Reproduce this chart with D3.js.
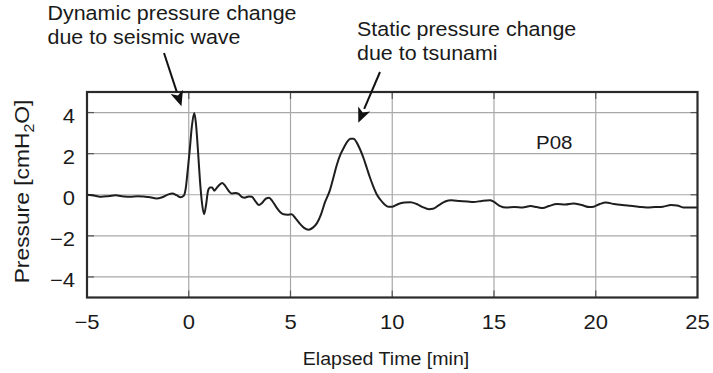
<!DOCTYPE html>
<html>
<head>
<meta charset="utf-8">
<script src="https://cdn.jsdelivr.net/npm/d3@7"></script>
<style>
  html, body { margin: 0; padding: 0; background: #fff; }
  svg { display: block; }
  text { font-family: "Liberation Sans", Arial, Helvetica, sans-serif; fill: #1a1a1a; }
</style>
</head>
<body>
<svg id="chart" width="713" height="373"></svg>
<script>
// Elapsed time after the event [min]
const timeMin = [
  -5.0, -4.6, -4.3, -3.9, -3.6, -3.2, -2.9, -2.5, -2.2, -1.9, -1.6, -1.3, -1.0, -0.8, -0.6, -0.4,
  -0.25, -0.15, -0.05, 0.05, 0.15, 0.27, 0.35, 0.45, 0.55, 0.65, 0.75, 0.85, 0.95, 1.05, 1.15, 1.25,
  1.35, 1.5, 1.65, 1.8, 1.95, 2.1, 2.3, 2.45, 2.6, 2.75, 2.95, 3.1, 3.3, 3.45, 3.6, 3.8, 3.95, 4.1,
  4.3, 4.5, 4.65, 4.85, 5.05, 5.25, 5.45, 5.65, 5.9, 6.1, 6.3, 6.5, 6.7, 6.93, 7.1, 7.26, 7.45, 7.6,
  7.8, 7.95, 8.1, 8.25, 8.4, 8.6, 8.75, 8.9, 9.07, 9.25, 9.4, 9.6, 9.8, 10.0, 10.3, 10.6, 10.9, 11.2,
  11.5, 11.8, 12.0, 12.3, 12.6, 12.9, 13.3, 13.7, 14.0, 14.4, 14.8, 15.0, 15.3, 15.6, 16.0, 16.4,
  16.8, 17.1, 17.4, 17.7, 18.1, 18.5, 18.9, 19.3, 19.7, 19.9, 20.2, 20.5, 20.9, 21.3, 21.7, 22.1,
  22.5, 22.9, 23.3, 23.7, 24.0, 24.3, 24.6, 25.0
];

// Seafloor pressure change at station P08 [cmH2O]
const pressure = [
  0.0, -0.05, -0.1, -0.06, -0.03, -0.08, -0.1, -0.07, -0.09, -0.12, -0.18, -0.12, 0.02, 0.06, -0.02, -0.12,
  -0.05, 0.3, 1.2, 2.2, 3.3, 3.98, 3.5, 2.2, 0.7, -0.4, -0.95, -0.5, 0.2, 0.35, 0.35, 0.2,
  0.3, 0.48, 0.57, 0.42, 0.2, 0.06, 0.08, 0.04, -0.1, -0.14, -0.08, -0.1, -0.35, -0.5, -0.4, -0.18, -0.15, -0.3,
  -0.6, -0.85, -0.95, -0.97, -0.95, -1.15, -1.4, -1.6, -1.7, -1.6, -1.38, -0.95, -0.35, 0.2, 0.8, 1.4, 1.95, 2.25,
  2.6, 2.72, 2.72, 2.55, 2.25, 1.75, 1.3, 0.85, 0.4, 0.0, -0.22, -0.45, -0.58, -0.58, -0.45, -0.38, -0.36, -0.45,
  -0.6, -0.7, -0.68, -0.5, -0.33, -0.27, -0.3, -0.33, -0.35, -0.3, -0.27, -0.35, -0.55, -0.62, -0.6, -0.62,
  -0.55, -0.6, -0.65, -0.55, -0.45, -0.48, -0.43, -0.5, -0.6, -0.58, -0.45, -0.38, -0.45, -0.5, -0.54, -0.58,
  -0.62, -0.6, -0.58, -0.5, -0.52, -0.62, -0.62, -0.62
];

const xTicks = [-5, 0, 5, 10, 15, 20, 25];
const yTicks = [-4, -2, 0, 2, 4];
const xTickLabels = ["\u22125", "0", "5", "10", "15", "20", "25"];
const yTickLabels = ["\u22124", "\u22122", "0", "2", "4"];

const stationName = "P08";
const xTitle = "Elapsed Time [min]";
const annotations = [
  { lines: ["Dynamic pressure change", "due to seismic wave"], t: 0.0, v: 4.0 },
  { lines: ["Static pressure change", "due to tsunami"], t: 8.4, v: 3.6 }
];

const svg = d3.select("#chart");
const plot = { left: 87, right: 697.5, top: 92, bottom: 297.5 };

const x = d3.scaleLinear().domain([-5, 25]).range([plot.left, plot.right]);
const y = d3.scaleLinear().domain([-5, 5]).range([plot.bottom, plot.top]);

// Text rendered slightly wide, like the plotting package's Helvetica
function wideText(sel, px, py, str, size, sx, anchor, rotate) {
  const g = sel.append("g")
    .attr("transform", `translate(${px},${py})` + (rotate ? ` rotate(${rotate})` : "") + ` scale(${sx},1)`);
  return g.append("text")
    .attr("font-size", size)
    .attr("text-anchor", anchor || "start")
    .text(str);
}

// Grid lines
const grid = svg.append("g");
grid.selectAll("line.vx").data(xTicks.slice(1, -1)).join("line")
  .attr("x1", d => x(d)).attr("x2", d => x(d))
  .attr("y1", plot.top).attr("y2", plot.bottom)
  .attr("stroke", "#a8a8a8").attr("stroke-width", 1.2);
grid.selectAll("line.hy").data(yTicks).join("line")
  .attr("x1", plot.left).attr("x2", plot.right)
  .attr("y1", d => y(d)).attr("y2", d => y(d))
  .attr("stroke", "#a8a8a8").attr("stroke-width", 1.2);

// Inward tick marks on all four sides
const tk = 7;
const ticks = svg.append("g").attr("stroke", "#555").attr("stroke-width", 1.2);
xTicks.slice(1, -1).forEach(d => {
  ticks.append("line").attr("x1", x(d)).attr("x2", x(d)).attr("y1", plot.bottom).attr("y2", plot.bottom - tk);
  ticks.append("line").attr("x1", x(d)).attr("x2", x(d)).attr("y1", plot.top).attr("y2", plot.top + tk);
});
yTicks.forEach(d => {
  ticks.append("line").attr("x1", plot.left).attr("x2", plot.left + tk).attr("y1", y(d)).attr("y2", y(d));
  ticks.append("line").attr("x1", plot.right).attr("x2", plot.right - tk).attr("y1", y(d)).attr("y2", y(d));
});

// Pressure record
const series = timeMin.map((t, i) => ({ t, v: pressure[i] }));
const line = d3.line().x(d => x(d.t)).y(d => y(d.v)).curve(d3.curveMonotoneX);
svg.append("path")
  .datum(series)
  .attr("d", line)
  .attr("fill", "none")
  .attr("stroke", "#1e1e1e")
  .attr("stroke-width", 2)
  .attr("stroke-linejoin", "round");

// Frame
svg.append("rect")
  .attr("x", plot.left).attr("y", plot.top)
  .attr("width", plot.right - plot.left).attr("height", plot.bottom - plot.top)
  .attr("fill", "none").attr("stroke", "#2a2a2a").attr("stroke-width", 2.2);

// Tick labels
xTicks.forEach((d, i) => wideText(svg, x(d), 328.5, xTickLabels[i], 20, 1.1, "middle"));
yTicks.forEach((d, i) => wideText(svg, 75, y(d) + 10, yTickLabels[i], 20, 1.1, "end"));

// Axis titles
wideText(svg, 386, 365, xTitle, 17.5, 1.12, "middle");
const yt = svg.append("g").attr("transform", "translate(29,191.5) rotate(-90) scale(1.14,1)");
const ytText = yt.append("text").attr("font-size", 20).attr("text-anchor", "middle");
ytText.append("tspan").text("Pressure [cmH");
ytText.append("tspan").attr("font-size", 14).attr("dy", 4.5).text("2");
ytText.append("tspan").attr("dy", -4.5).text("O]");

// Station label
wideText(svg, 536, 148.5, stationName, 19, 1.08, "start");

// Annotations with arrows
const annoPos = [
  { tx: 47.5, ty: 19.5, from: [164, 53] },
  { tx: 357, ty: 35.5, from: [380, 72] }
];
const tipOffset = [[-7.3, -6.4], [-1.4, 2]];
annotations.forEach((a, i) => {
  const p = annoPos[i];
  a.lines.forEach((s, j) => wideText(svg, p.tx, p.ty + j * 24.5, s, 19.5, 1.1, "start"));
  const tip = [x(a.t) + tipOffset[i][0], y(a.v) + tipOffset[i][1]];
  const from = p.from;
  const ang = Math.atan2(tip[1] - from[1], tip[0] - from[0]);
  const headLen = 15, headW = 6.5;
  const base = [tip[0] - headLen * Math.cos(ang), tip[1] - headLen * Math.sin(ang)];
  svg.append("line")
    .attr("x1", from[0]).attr("y1", from[1]).attr("x2", base[0]).attr("y2", base[1])
    .attr("stroke", "#111").attr("stroke-width", 2);
  const nx = -Math.sin(ang), ny = Math.cos(ang);
  const notch = [tip[0] - headLen * 0.75 * Math.cos(ang), tip[1] - headLen * 0.75 * Math.sin(ang)];
  svg.append("path")
    .attr("d", `M${tip[0]},${tip[1]} L${base[0] + nx * headW},${base[1] + ny * headW} L${notch[0]},${notch[1]} L${base[0] - nx * headW},${base[1] - ny * headW} Z`)
    .attr("fill", "#111");
});
</script>
</body>
</html>
